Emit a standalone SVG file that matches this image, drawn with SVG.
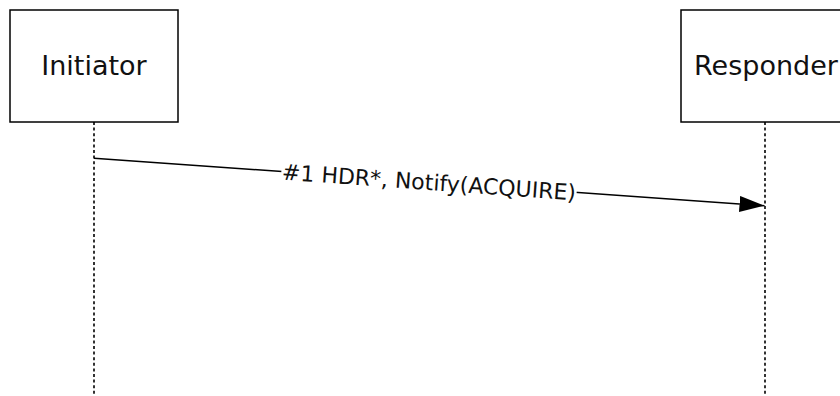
<svg xmlns="http://www.w3.org/2000/svg" width="840" height="396" viewBox="0 0 840 396">
<style>
.box{fill:#fff;stroke:#000;stroke-width:1.5}
.title{font-family:"DejaVu Sans",Verdana,sans-serif;font-size:27px;fill:#111;text-anchor:middle}
.life{stroke:#000;stroke-width:1.6;stroke-dasharray:3,2.6;fill:none}
.msg{stroke:#000;stroke-width:1.5;fill:none}
.lbl{font-family:"DejaVu Sans",Verdana,sans-serif;font-size:22px;fill:#111;text-anchor:middle}
</style>
<defs>
<marker id="arr" markerUnits="userSpaceOnUse" markerWidth="26" markerHeight="18" refX="25" refY="8" orient="auto">
<path d="M0,0 L25,8 L0,16 Z" fill="#000"/>
</marker>
</defs>
<rect width="840" height="396" fill="#fff"/>
<g id="initiator">
<rect class="box" x="10" y="10" width="168" height="112"/>
<text class="title" x="94" y="75">Initiator</text>
<line class="life" x1="94" y1="122" x2="94" y2="396"/>
</g>
<g id="responder">
<rect class="box" x="681" y="10" width="168" height="112"/>
<text class="title" x="766" y="75">Responder</text>
<line class="life" x1="765" y1="122" x2="765" y2="396"/>
</g>
<g id="connectors">
<line class="msg" x1="94" y1="158.3" x2="764.5" y2="205.7" marker-end="url(#arr)"/>
<g transform="translate(429,182) rotate(4.05)">
<rect x="-148" y="-11" width="296" height="22" fill="#fff"/>
<text class="lbl" x="0" y="8">#1 HDR*, Notify(ACQUIRE)</text>
</g>
</g>
</svg>
